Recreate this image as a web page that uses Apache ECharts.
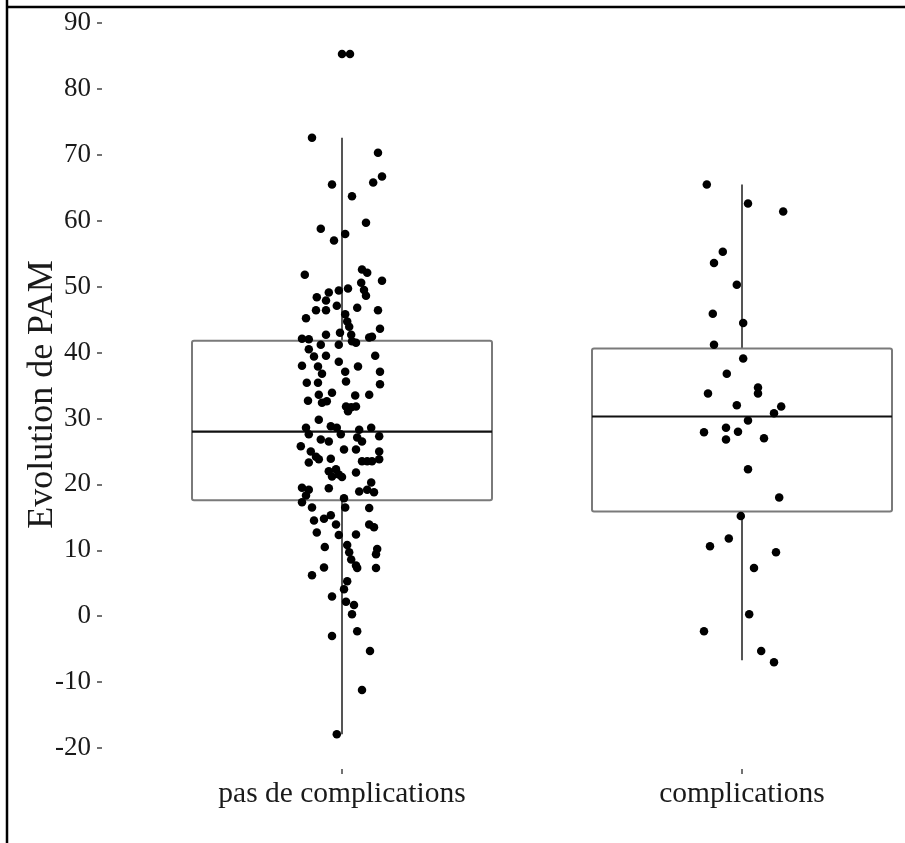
<!DOCTYPE html>
<html>
<head>
<meta charset="utf-8">
<script src="https://cdn.jsdelivr.net/npm/echarts@6/dist/echarts.min.js"></script>
<style>
html, body { margin: 0; padding: 0; background: #fff; }
#chart { width: 905px; height: 843px; }
</style>
</head>
<body>
<div id="chart"></div>
<script>
// groups on the x axis (positions 0 and 1)
const categories = ['pas de complications', 'complications'];

// box stats: [min, Q1, median, Q3, max]
const boxStats = [
    [-17.9, 17.6, 28.0, 41.8, 72.6],
    [-6.7, 15.9, 30.3, 40.6, 65.5]
];

// jittered points, group 1 (value and horizontal jitter in category units)
const pasValues = [
    85.3, 85.3, 72.6, 70.3, 66.7, 65.8, 65.5, 63.7, 59.7, 58.8,
    58.0, 57.0, 51.8, 52.6, 52.1, 50.9, 50.6, 49.5, 49.7, 49.4,
    49.1, 48.4, 47.9, 48.6, 47.1, 46.8, 46.4, 46.4, 46.4, 45.2,
    45.8, 44.7, 43.9, 43.6, 42.7, 43.0, 42.7, 42.1, 42.0, 41.2,
    41.2, 41.7, 41.5, 42.3, 42.4, 40.5, 39.5, 39.4, 39.5, 38.0,
    38.6, 37.9, 37.9, 37.1, 36.8, 37.1, 35.6, 35.4, 35.4, 35.2,
    33.6, 33.9, 33.5, 33.6, 32.7, 32.4, 32.6, 31.8, 31.7, 31.8,
    31.1, 29.8, 28.6, 28.8, 28.6, 28.3, 28.6, 27.3, 27.6, 26.8,
    26.5, 27.6, 27.1, 26.5, 25.8, 25.0, 24.2, 25.3, 25.3, 25.0,
    23.8, 23.9, 23.3, 23.5, 23.5, 23.5, 23.8, 22.0, 22.3, 21.5,
    21.8, 21.2, 21.1, 20.3, 19.5, 19.2, 19.4, 18.9, 19.2, 18.8,
    18.3, 17.9, 17.3, 16.5, 16.5, 16.4, 14.5, 14.8, 15.3, 13.9,
    13.9, 13.5, 12.7, 12.3, 12.4, 10.5, 10.8, 10.2, 9.7, 9.4,
    8.6, 7.7, 7.3, 7.4, 7.3, 6.2, 5.3, 4.1, 3.0, 2.2,
    1.7, 0.3, -3.0, -2.3, -5.3, -11.2, -17.9
];
const pasJitter = [
    0.000, 0.020, -0.075, 0.090, 0.100, 0.078, -0.025, 0.025, 0.060, -0.053,
    0.008, -0.020, -0.093, 0.050, 0.063, 0.100, 0.048, 0.055, 0.015, -0.008,
    -0.033, -0.063, -0.040, 0.060, -0.013, 0.038, -0.065, -0.040, 0.090, -0.090,
    0.008, 0.013, 0.018, 0.095, -0.040, -0.005, 0.023, -0.100, -0.083, -0.053,
    -0.008, 0.025, 0.035, 0.068, 0.075, -0.083, -0.040, -0.070, 0.083, -0.100,
    -0.008, -0.060, 0.040, 0.008, -0.050, 0.095, 0.010, -0.088, -0.060, 0.095,
    -0.058, -0.025, 0.033, 0.068, -0.085, -0.050, -0.038, 0.010, 0.023, 0.035,
    0.015, -0.058, -0.090, -0.028, -0.013, 0.043, 0.073, 0.093, -0.083, -0.053,
    -0.033, -0.003, 0.038, 0.050, -0.103, -0.078, -0.065, 0.005, 0.035, 0.093,
    -0.058, -0.028, -0.083, 0.050, 0.063, 0.075, 0.093, -0.033, -0.015, -0.008,
    0.035, -0.025, 0.000, 0.073, -0.100, -0.083, -0.033, 0.043, 0.063, 0.080,
    -0.090, 0.005, -0.100, -0.075, 0.008, 0.068, -0.070, -0.045, -0.028, -0.015,
    0.068, 0.080, -0.063, -0.008, 0.035, -0.043, 0.013, 0.088, 0.018, 0.085,
    0.023, 0.035, 0.038, -0.045, 0.085, -0.075, 0.013, 0.005, -0.025, 0.010,
    0.030, 0.025, -0.025, 0.038, 0.070, 0.050, -0.013
];

// jittered points, group 2
const compValues = [
    65.5, 62.6, 61.4, 55.3, 53.6, 50.3, 45.9, 44.5, 41.2, 39.1,
    36.8, 33.8, 34.7, 33.8, 32.0, 31.8, 30.8, 29.7, 28.6, 28.0,
    27.9, 26.8, 27.0, 22.3, 18.0, 15.2, 11.8, 10.6, 9.7, 7.3,
    0.3, -2.3, -5.3, -7.0
];
const compJitter = [
    -0.088, 0.015, 0.103, -0.048, -0.070, -0.013, -0.073, 0.003, -0.070, 0.003,
    -0.038, -0.085, 0.040, 0.040, -0.013, 0.098, 0.080, 0.015, -0.040, -0.010,
    -0.095, -0.040, 0.055, 0.015, 0.093, -0.003, -0.033, -0.080, 0.085, 0.030,
    0.018, -0.095, 0.048, 0.080
];

const serif = '"Liberation Serif", "DejaVu Serif", serif';

const boxData = boxStats.map((s, i) => [i].concat(s));
const points = pasValues.map((v, i) => [0 + pasJitter[i], v])
    .concat(compValues.map((v, i) => [1 + compJitter[i], v]));

function renderBox(params, api) {
    const idx = api.value(0);
    const lo = api.coord([idx, api.value(1)]);
    const q1 = api.coord([idx, api.value(2)]);
    const med = api.coord([idx, api.value(3)]);
    const q3 = api.coord([idx, api.value(4)]);
    const hi = api.coord([idx, api.value(5)]);
    const half = api.size([0.375, 0])[0];
    const x = med[0];
    const whisker = { stroke: '#555', lineWidth: 2 };
    return {
        type: 'group',
        children: [
            { type: 'line', shape: { x1: x, y1: lo[1], x2: x, y2: q1[1] }, style: whisker },
            { type: 'line', shape: { x1: x, y1: q3[1], x2: x, y2: hi[1] }, style: whisker },
            {
                type: 'rect',
                shape: { x: x - half, y: q3[1], width: half * 2, height: q1[1] - q3[1], r: 2 },
                style: { fill: 'transparent', stroke: '#7a7a7a', lineWidth: 2 }
            },
            { type: 'line', shape: { x1: x - half, y1: med[1], x2: x + half, y2: med[1] }, style: { stroke: '#111', lineWidth: 2.2 } }
        ]
    };
}

const chart = echarts.init(document.getElementById('chart'));
chart.setOption({
    animation: false,
    backgroundColor: '#fff',
    grid: { left: 102, right: 3, top: 23, bottom: 95, containLabel: false },
    xAxis: {
        type: 'value',
        min: -0.6,
        max: 1.4,
        offset: 21,
        axisLine: { show: false, onZero: false },
        axisTick: { show: true, length: 5, customValues: [0, 1], lineStyle: { color: '#444', width: 1.5 } },
        axisLabel: {
            customValues: [0, 1],
            formatter: v => categories[Math.round(v)],
            fontFamily: serif, fontSize: 29.5, color: '#1a1a1a', margin: 10
        },
        splitLine: { show: false }
    },
    yAxis: {
        type: 'value',
        min: -20,
        max: 90,
        interval: 10,
        name: 'Evolution de PAM',
        nameLocation: 'middle',
        nameRotate: 90,
        nameGap: 41,
        nameMoveOverlap: false,
        nameTextStyle: { fontFamily: serif, fontSize: 36, color: '#1a1a1a', padding: [0, 18, 0, 0] },
        axisLine: { show: false, onZero: false },
        axisTick: { show: true, length: 5, lineStyle: { color: '#444', width: 1.5 } },
        axisLabel: { fontFamily: serif, fontSize: 27, color: '#1a1a1a', margin: 11 },
        splitLine: { show: false }
    },
    graphic: [
        { type: 'line', shape: { x1: 7, y1: 0, x2: 7, y2: 843 }, style: { stroke: '#000', lineWidth: 2.5 } },
        { type: 'line', shape: { x1: 6, y1: 7, x2: 905, y2: 7 }, style: { stroke: '#000', lineWidth: 2.5 } }
    ],
    series: [{
        type: 'custom',
        renderItem: renderBox,
        encode: { x: 0, y: [1, 2, 3, 4, 5] },
        data: boxData,
        z: 1
    }, {
        type: 'scatter',
        symbol: 'circle',
        symbolSize: 8.5,
        itemStyle: { color: '#000', opacity: 1 },
        data: points,
        z: 3
    }]
});
</script>
</body>
</html>
